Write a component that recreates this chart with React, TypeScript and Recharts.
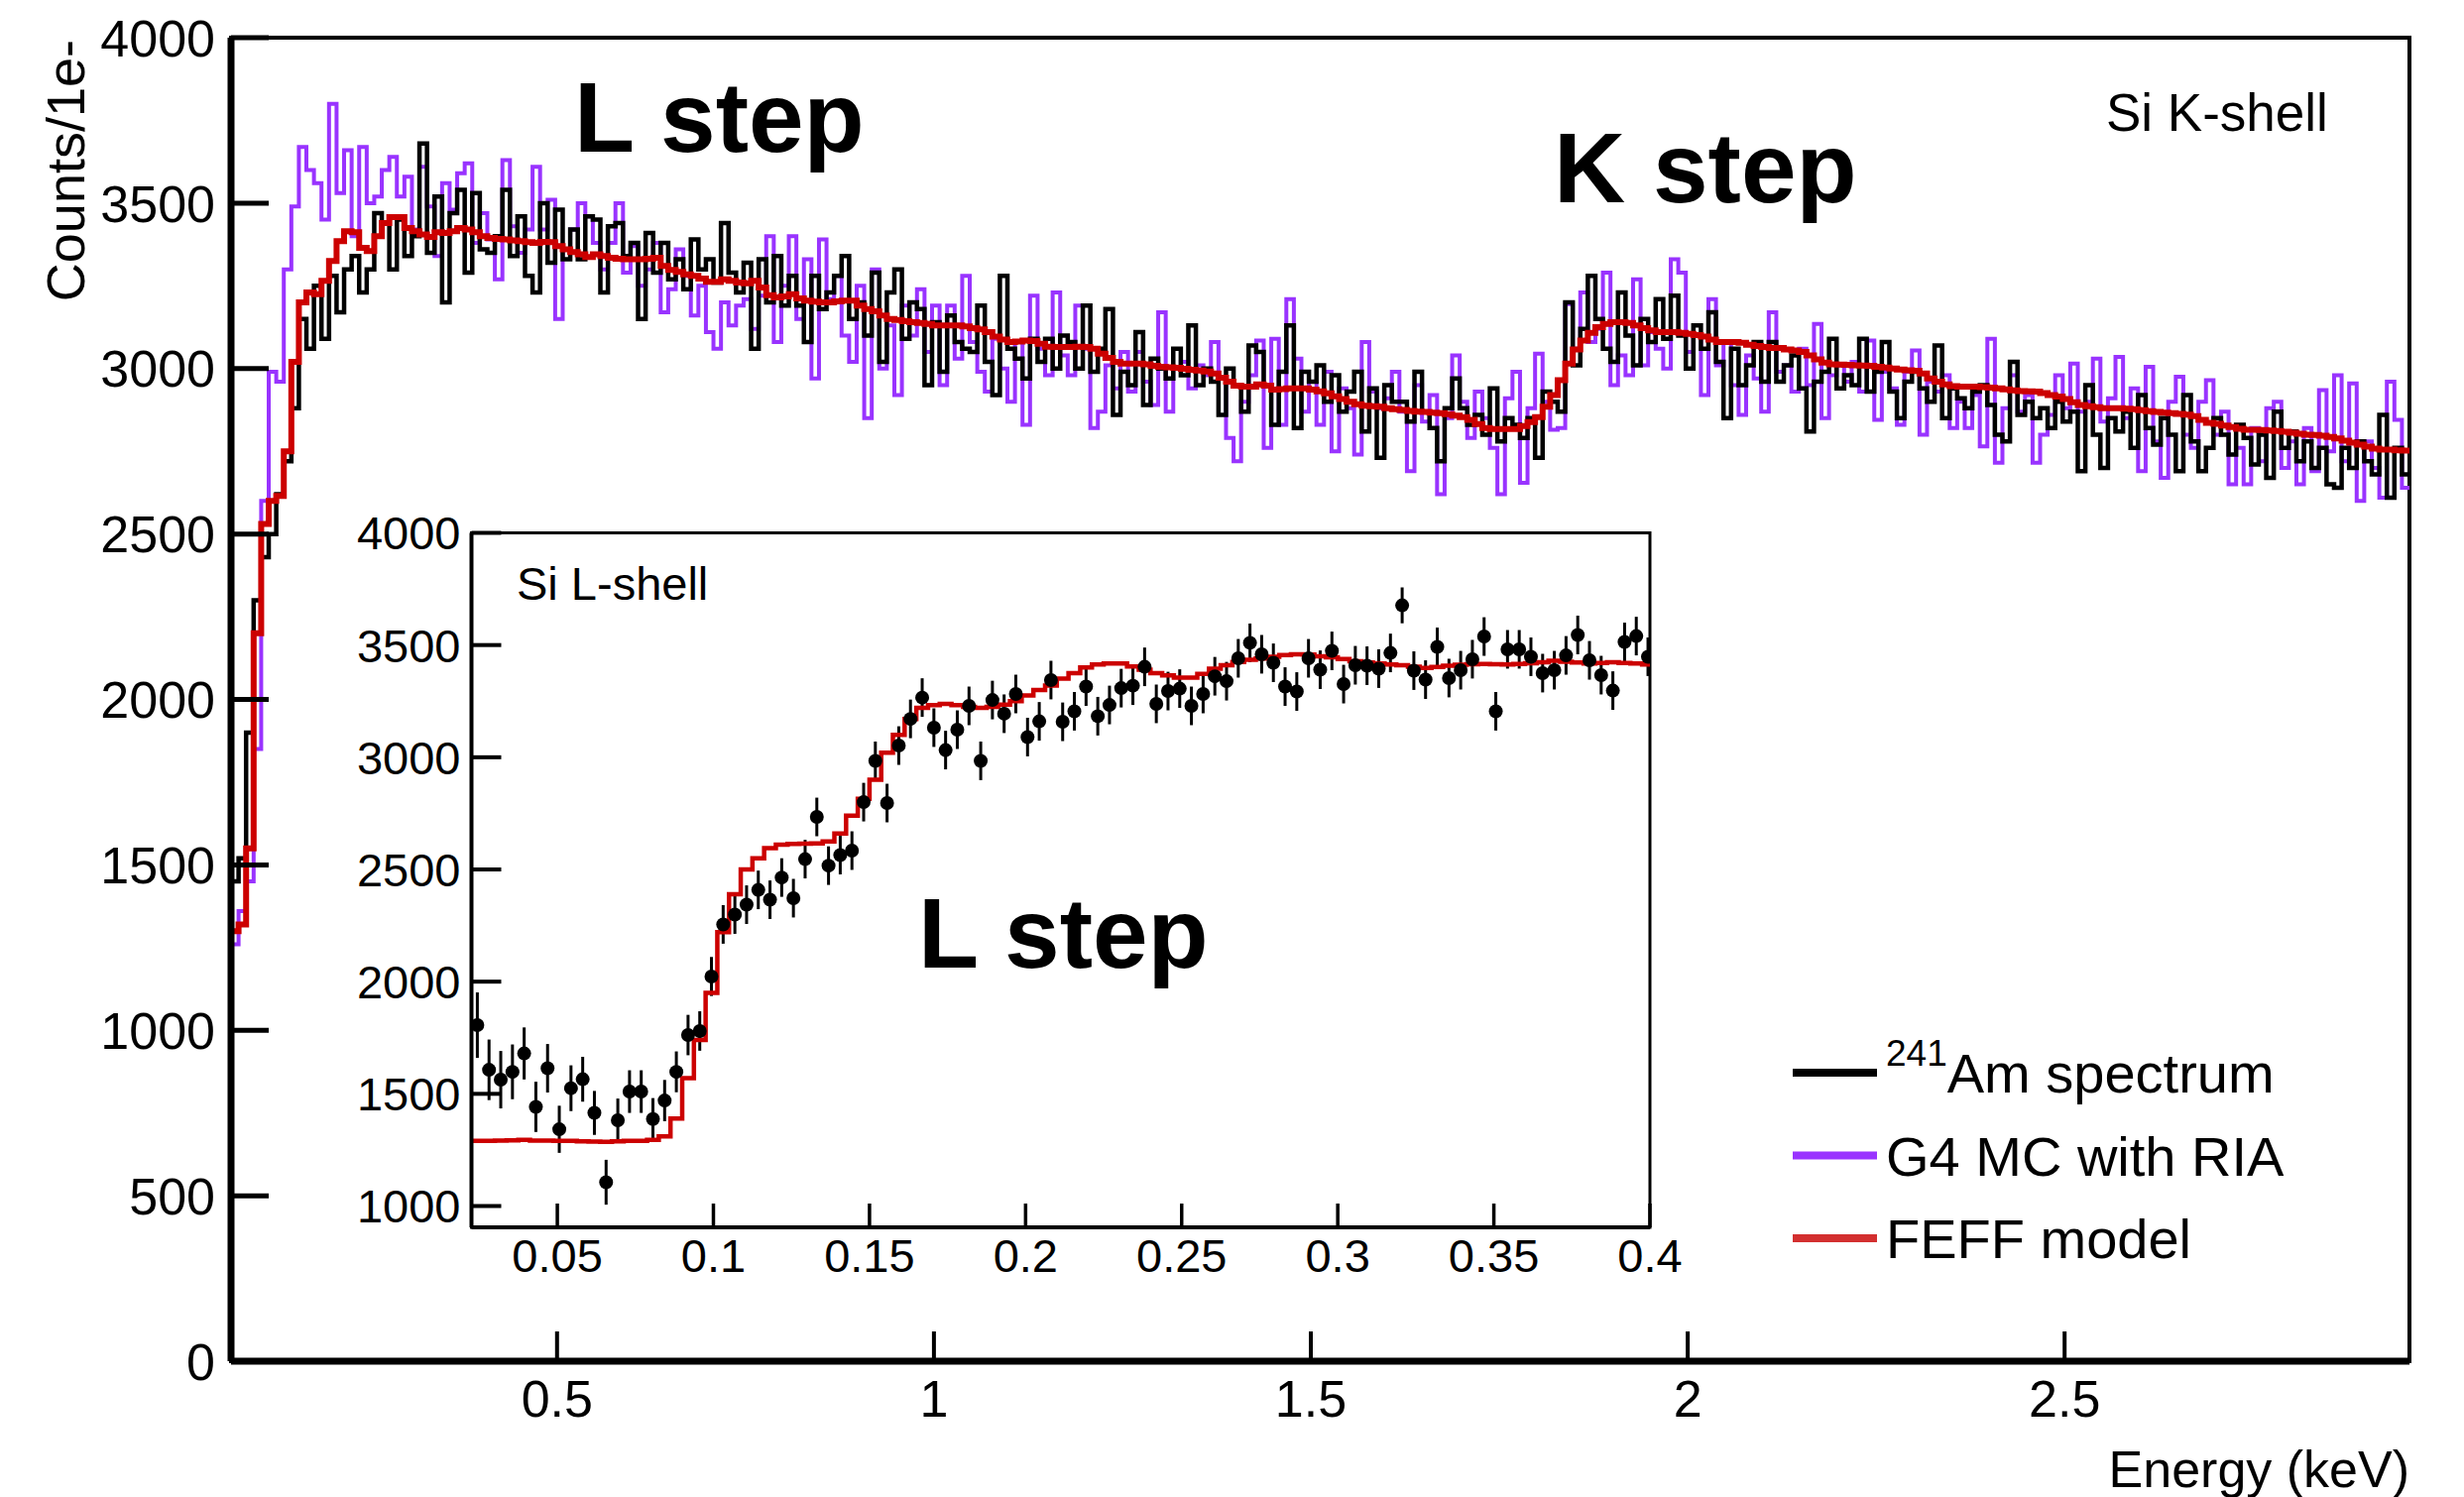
import React from 'react';
import { ComposedChart, Line, Scatter, XAxis, YAxis, ErrorBar, ReferenceArea } from 'recharts';

const FONT = '"Liberation Sans", Arial, Helvetica, sans-serif';

// ---------- Main spectrum: 10 eV bins starting at 0.0675 keV ----------
const BIN_START = 0.0675;
const BIN_WIDTH = 0.01;

// 241Am spectrum (black)
const AM241 = [
  1450, 1520, 1900, 2300, 2430, 2500, 2620, 2720, 2880, 3150,
  3060, 3250, 3090, 3280, 3170, 3300, 3340, 3230, 3300, 3470,
  3440, 3300, 3450, 3340, 3400, 3680, 3350, 3520, 3200, 3470,
  3540, 3290, 3530, 3360, 3350, 3400, 3540, 3340, 3460, 3280,
  3230, 3500, 3320, 3480, 3330, 3420, 3330, 3460, 3450, 3230,
  3430, 3440, 3340, 3380, 3150, 3410, 3290, 3380, 3270, 3330,
  3240, 3390, 3300, 3330, 3260, 3440, 3290, 3230, 3320, 3060,
  3330, 3200, 3340, 3190, 3280, 3190, 3080, 3280, 3180, 3230,
  3280, 3340, 3150, 3200, 3100, 3290, 3020, 3230, 3300, 3090,
  3200, 3180, 2950, 3140, 2990, 3160, 3080, 3060, 3050, 3190,
  3020, 2920, 3280, 3060, 3030, 2970, 3090, 3020, 3090, 3000,
  3100, 3080, 3000, 3190, 2990, 3060, 3180, 2860, 2990, 2950,
  3110, 2890, 3030, 3000, 2970, 3060, 2980, 3130, 2950, 3000,
  2960, 2860, 3000, 2950, 2870, 3070, 3050, 2950, 2830, 2990,
  3130, 2820, 2990, 2960, 3010, 2900, 2980, 2870, 2930, 2990,
  2810, 2940, 2730, 2950, 2900, 2900, 2840, 2990, 2870, 2820,
  2720, 2880, 2970, 2880, 2830, 2860, 2800, 2940, 2780, 2850,
  2830, 2790, 2850, 2730, 2930, 2900, 2870, 3200, 3010, 3120,
  3280, 3150, 3060, 3020, 3230, 3100, 3010, 3150, 3080, 3210,
  3090, 3220, 3100, 3000, 3130, 3060, 3170, 3020, 2850, 3060,
  2950, 3010, 3080, 2960, 3080, 2960, 3010, 3040, 2940, 2810,
  2960, 2990, 3090, 2940, 2980, 2950, 3090, 2930, 2990, 3080,
  2930, 2850, 2960, 2990, 2940, 2900, 3070, 2850, 2940, 2910,
  2880, 2930, 2950, 2890, 2800, 2780, 3020, 2860, 2900, 2850,
  2880, 2820, 2900, 2840, 2870, 2690, 2950, 2800, 2700, 2850,
  2810, 2870, 2760, 2920, 2820, 2770, 2850, 2800, 2690, 2920,
  2780, 2690, 2760, 2850, 2800, 2740, 2830, 2790, 2710, 2800,
  2670, 2870, 2760, 2810, 2720, 2780, 2700, 2760, 2650, 2640,
  2760, 2700, 2780, 2720, 2680, 2860, 2610, 2760, 2680,
];

// G4 MC with RIA (purple)
const G4MC = [
  1260, 1360, 1450, 1850, 2600, 2990, 2960, 3300, 3490, 3670,
  3600, 3560, 3450, 3800, 3530, 3660, 3400, 3670, 3500, 3520,
  3600, 3640, 3520, 3580, 3420, 3610, 3490, 3340, 3560, 3480,
  3590, 3620, 3380, 3470, 3390, 3270, 3630, 3430, 3350, 3420,
  3610, 3420, 3510, 3150, 3360, 3420, 3500, 3460, 3380, 3300,
  3380, 3500, 3290, 3370, 3250, 3300, 3380, 3170, 3240, 3360,
  3280, 3160, 3250, 3110, 3060, 3200, 3130, 3190, 3210, 3120,
  3220, 3400, 3080, 3250, 3400, 3150, 3330, 2970, 3390, 3210,
  3280, 3100, 3020, 3250, 2850, 3300, 3000, 3130, 2920, 3190,
  3100, 3240, 3050, 3190, 2950, 3190, 3030, 3280, 3080, 2990,
  2930, 3090, 3000, 2900, 3080, 2830, 3220, 3060, 2980, 3230,
  3040, 2980, 3190, 3060, 2820, 2870, 3010, 2940, 3050, 2930,
  3050, 2960, 2890, 3170, 2870, 3000, 3020, 2940, 3010, 2980,
  3080, 2970, 2790, 2720, 2900, 2980, 3085, 2760, 3090, 2830,
  3210, 3030, 2870, 2960, 2830, 2990, 2750, 2940, 2880, 2740,
  3080, 2930, 2880, 2910, 2990, 2870, 2690, 2950, 2840, 2920,
  2620, 2850, 3040, 2900, 2790, 2930, 2850, 2760, 2620, 2910,
  2990, 2655, 2880, 3045, 2900, 2815, 2820, 3195, 3060, 3230,
  3080, 3120, 3290, 2950, 3040, 2980, 3270, 3010, 3110, 3060,
  3000, 3330, 3290, 3050, 3100, 2920, 3210, 3010, 3080, 2950,
  2860, 3040, 2970, 2870, 3170, 2990, 3010, 2930, 3060, 2950,
  3135, 2850, 2980, 3010, 2960, 3020, 2930, 3085, 2845, 2990,
  2940, 2830, 2990, 3055, 2800, 2960, 2930, 2980, 2820, 2900,
  2820, 2920, 2765, 3090, 2715, 2880, 2980, 2870, 2920, 2715,
  2800, 2860, 2980, 2880, 3015, 2870, 2900, 3030, 2840, 2910,
  3035, 2850, 2940, 2690, 3005, 2780, 2670, 2900, 2975, 2800,
  2760, 2900, 2965, 2800, 2870, 2650, 2760, 2650, 2820, 2720,
  2880, 2900, 2700, 2780, 2650, 2820, 2690, 2935, 2750, 2980,
  2720, 2955, 2600, 2780, 2700, 2610, 2960, 2845, 2640,
];

// FEFF model (red)
const FEFF = [
  1300, 1320, 1550, 2200, 2530, 2600, 2615, 2750, 3020, 3200,
  3230, 3225, 3265, 3325, 3385, 3415, 3412, 3365, 3355, 3400,
  3440, 3458, 3458, 3425, 3415, 3405, 3398, 3412, 3410, 3415,
  3425, 3420, 3412, 3400, 3395, 3392, 3390, 3387, 3385, 3382,
  3380, 3383, 3382, 3370, 3360, 3352, 3345, 3337, 3345, 3340,
  3335, 3332, 3330, 3330, 3330, 3332, 3335, 3310, 3298, 3292,
  3285, 3280, 3272, 3262, 3262, 3270, 3265, 3260, 3258, 3265,
  3245, 3222, 3215, 3218, 3225, 3212, 3205, 3202, 3200, 3200,
  3203, 3205, 3205, 3190, 3180, 3173, 3160, 3150, 3147, 3143,
  3140, 3138, 3135, 3130, 3130, 3130, 3130, 3127, 3122, 3118,
  3110, 3097, 3088, 3080, 3082, 3085, 3083, 3075, 3066, 3065,
  3065, 3065, 3066, 3065, 3060, 3045, 3032, 3020, 3015, 3015,
  3015, 3013, 3008, 3005, 3004, 3002, 2999, 2996, 2994, 2991,
  2985, 2972, 2960, 2948, 2945, 2945, 2952, 2948, 2936, 2938,
  2940, 2940, 2940, 2936, 2931, 2925, 2916, 2908, 2900, 2892,
  2888, 2886, 2885, 2880, 2877, 2875, 2872, 2870, 2869, 2867,
  2865, 2862, 2858, 2853, 2845, 2832, 2820, 2817, 2817, 2817,
  2817, 2826, 2838, 2853, 2885, 2920, 2965, 3015, 3058, 3085,
  3108, 3125, 3135, 3140, 3140, 3138, 3130, 3122, 3115, 3110,
  3110, 3110, 3108, 3105, 3101, 3097, 3088, 3080, 3080, 3080,
  3078, 3072, 3068, 3065, 3062, 3062, 3058, 3055, 3050, 3040,
  3028, 3018, 3013, 3012, 3011, 3010, 3009, 3008, 3005, 3003,
  3000, 2997, 2995, 2993, 2985, 2970, 2960, 2952, 2947, 2945,
  2945, 2945, 2944, 2942, 2940, 2937, 2934, 2932, 2931, 2930,
  2926, 2920, 2915, 2908, 2898, 2890, 2886, 2883, 2880, 2880,
  2880, 2879, 2877, 2874, 2871, 2869, 2867, 2865, 2863, 2861,
  2856, 2845, 2836, 2833, 2828, 2823, 2818, 2815, 2815, 2814,
  2813, 2811, 2809, 2806, 2803, 2800, 2799, 2797, 2793, 2789,
  2782, 2776, 2770, 2764, 2758, 2755, 2755, 2753, 2752,
];

const MAIN_X_DOMAIN: [number, number] = [0.0675, 2.9575];
const MAIN_Y_DOMAIN: [number, number] = [0, 4000];
const MAIN_X_TICKS = [0.5, 1, 1.5, 2, 2.5];
const MAIN_Y_TICKS = [0, 500, 1000, 1500, 2000, 2500, 3000, 3500, 4000];

// ---------- Inset: Si L-shell, 1 e- (3.75 eV) bins ----------
const INSET_BIN_WIDTH = 0.00375;
const INSET_FIRST_BIN = 6;

const INSET_COUNTS = [
  1806, 1607, 1563, 1598, 1680, 1442, 1614, 1342, 1525, 1565,
  1415, 1106, 1382, 1510, 1510, 1388, 1470, 1598, 1762, 1780,
  2023, 2255, 2299, 2343, 2409, 2365, 2464, 2372, 2546, 2734,
  2517, 2564, 2584, 2800, 2984, 2796, 3052, 3171, 3266, 3132,
  3032, 3123, 3229, 2984, 3255, 3194, 3282, 3090, 3160, 3344,
  3158, 3205, 3315, 3183, 3233, 3308, 3319, 3403, 3238, 3295,
  3306, 3229, 3282, 3361, 3339, 3441, 3510, 3459, 3421, 3315,
  3293, 3441, 3390, 3474, 3326, 3410, 3408, 3395, 3465, 3677,
  3386, 3346, 3492, 3353, 3388, 3437, 3538, 3205, 3481, 3481,
  3448, 3375, 3388, 3454, 3545, 3432, 3366, 3297, 3514, 3540,
  3448,
];

const INSET_ERRORS = [
  146, 135, 128, 122, 116, 112, 108, 105, 102, 100,
  98, 100, 97, 95, 95, 93, 92, 91, 90, 88,
  87, 86, 86, 86, 86, 86, 86, 86, 86, 86,
  86, 86, 86, 86, 86, 86, 86, 86, 86, 86,
  86, 86, 86, 86, 86, 86, 86, 86, 86, 86,
  86, 86, 86, 86, 86, 86, 86, 86, 86, 86,
  86, 86, 86, 86, 86, 86, 86, 86, 86, 86,
  86, 86, 86, 86, 86, 86, 86, 86, 86, 80,
  86, 86, 86, 86, 86, 86, 86, 86, 86, 86,
  86, 86, 86, 86, 86, 86, 86, 86, 86, 86,
  86,
];

const INSET_MODEL = [
  1290, 1290, 1292, 1293, 1295, 1292, 1292, 1290, 1290, 1288,
  1287, 1286, 1288, 1290, 1290, 1295, 1310, 1390, 1570, 1740,
  1950, 2220, 2390, 2500, 2550, 2595, 2610, 2614, 2615, 2616,
  2625, 2660, 2740, 2815, 2900, 3020, 3100, 3170, 3220, 3232,
  3238, 3232, 3225, 3220, 3225, 3235, 3250, 3275, 3300, 3320,
  3350, 3375, 3400, 3413, 3418, 3418, 3405, 3390, 3375, 3365,
  3355, 3355, 3372, 3395, 3410, 3425, 3435, 3440, 3448, 3455,
  3459, 3458, 3450, 3445, 3438, 3428, 3422, 3418, 3414, 3410,
  3404, 3398, 3402, 3408, 3412, 3415, 3416, 3415, 3414, 3416,
  3419, 3423, 3430, 3426, 3422, 3418, 3420, 3423, 3420, 3418,
  3414,
];

const INSET_X_DOMAIN: [number, number] = [0.0225, 0.4];
const INSET_Y_DOMAIN: [number, number] = [905, 4000];
const INSET_X_TICKS = [0.05, 0.1, 0.15, 0.2, 0.25, 0.3, 0.35, 0.4];
const INSET_Y_TICKS = [1000, 1500, 2000, 2500, 3000, 3500, 4000];

const COLORS = { am: '#000000', mc: '#9933ff', feff: '#cc0000', feffLegend: '#d32f2f' };

const LEGEND = [
  { sup: '241', label: 'Am spectrum', color: COLORS.am },
  { sup: '', label: 'G4 MC with RIA', color: COLORS.mc },
  { sup: '', label: 'FEFF model', color: COLORS.feffLegend },
];

// ---------- build tables for the library ----------
const mainRows = FEFF.map((v, i) => ({
  x: BIN_START + i * BIN_WIDTH,
  am: AM241[i],
  mc: G4MC[i],
  feff: v,
}));
mainRows.push({
  x: BIN_START + FEFF.length * BIN_WIDTH,
  am: AM241[AM241.length - 1],
  mc: G4MC[G4MC.length - 1],
  feff: FEFF[FEFF.length - 1],
});

const insetPoints = INSET_COUNTS.map((c, k) => ({
  x: (INSET_FIRST_BIN + k + 0.5) * INSET_BIN_WIDTH,
  y: c,
  err: INSET_ERRORS[k],
}));

const insetModel = INSET_MODEL.map((v, k) => ({ x: (INSET_FIRST_BIN + k) * INSET_BIN_WIDTH, y: v }));
insetModel.push({
  x: (INSET_FIRST_BIN + INSET_MODEL.length) * INSET_BIN_WIDTH,
  y: INSET_MODEL[INSET_MODEL.length - 1],
});

// ---------- axis tick renderers (ROOT style: inward ticks) ----------
function makeYTick(gap: number, len: number, fontSize: number, sw: number) {
  return (props: any) => {
    const { x, y, payload } = props;
    const ax = x + gap;
    return (
      <g>
        <line x1={ax} x2={ax + len} y1={y} y2={y} stroke="#000" strokeWidth={sw} />
        <text x={x} y={y} dy="0.36em" textAnchor="end" fontSize={fontSize} fontFamily={FONT} fill="#000">
          {String(payload.value)}
        </text>
      </g>
    );
  };
}

function makeXTick(gap: number, len: number, fontSize: number, sw: number) {
  return (props: any) => {
    const { x, y, payload } = props;
    const ay = y - gap;
    return (
      <g>
        <line x1={x} x2={x} y1={ay} y2={ay - len} stroke="#000" strokeWidth={sw} />
        <text x={x} y={y} dy="0.72em" textAnchor="middle" fontSize={fontSize} fontFamily={FONT} fill="#000">
          {String(payload.value)}
        </text>
      </g>
    );
  };
}

const MainYTick = makeYTick(16, 38, 52, 5);
const MainXTick = makeXTick(19, 30, 52, 4);
const InsetYTick = makeYTick(11, 30, 47, 4);
const InsetXTick = makeXTick(11, 24, 47, 3.5);

const Dot = (p: any) => <circle cx={p.cx} cy={p.cy} r={7} fill="#000" />;

export default function App() {
  return (
    <div style={{ position: 'absolute', left: 0, top: 0, width: 2485, height: 1510, background: '#fff', overflow: 'hidden' }}>
      <div style={{ position: 'absolute', left: 0, top: 0 }}>
        <ComposedChart width={2485} height={1510} data={mainRows} margin={{ top: 38, right: 55, bottom: 77, left: 113 }}>
          <XAxis
            type="number"
            dataKey="x"
            domain={MAIN_X_DOMAIN}
            ticks={MAIN_X_TICKS}
            interval={0}
            allowDataOverflow
            height={60}
            tickSize={0}
            tickMargin={19}
            tickLine={false}
            axisLine={{ stroke: '#000', strokeWidth: 7 }}
            tick={MainXTick}
          />
          <YAxis
            type="number"
            domain={MAIN_Y_DOMAIN}
            ticks={MAIN_Y_TICKS}
            interval={0}
            allowDataOverflow
            width={120}
            tickSize={0}
            tickMargin={16}
            tickLine={false}
            axisLine={{ stroke: '#000', strokeWidth: 7 }}
            tick={MainYTick}
          />
          <ReferenceArea
            x1={MAIN_X_DOMAIN[0]}
            x2={MAIN_X_DOMAIN[1]}
            y1={MAIN_Y_DOMAIN[0]}
            y2={MAIN_Y_DOMAIN[1]}
            fill="none"
            fillOpacity={0}
            stroke="#000"
            strokeWidth={4}
          />
          <Line type="stepAfter" dataKey="mc" stroke={COLORS.mc} strokeWidth={4} dot={false} activeDot={false} isAnimationActive={false} />
          <Line type="stepAfter" dataKey="am" stroke={COLORS.am} strokeWidth={4.5} dot={false} activeDot={false} isAnimationActive={false} />
          <Line type="stepAfter" dataKey="feff" stroke={COLORS.feff} strokeWidth={6} dot={false} activeDot={false} isAnimationActive={false} />
        </ComposedChart>
      </div>

      <div style={{ position: 'absolute', left: 340, top: 500 }}>
        <ComposedChart width={1400} height={820} margin={{ top: 37.5, right: 76, bottom: 22, left: 35.5 }}>
          <XAxis
            type="number"
            dataKey="x"
            domain={INSET_X_DOMAIN}
            ticks={INSET_X_TICKS}
            interval={0}
            allowDataOverflow
            height={60}
            tickSize={0}
            tickMargin={11}
            tickLine={false}
            axisLine={{ stroke: '#000', strokeWidth: 4 }}
            tick={InsetXTick}
          />
          <YAxis
            type="number"
            dataKey="y"
            domain={INSET_Y_DOMAIN}
            ticks={INSET_Y_TICKS}
            interval={0}
            allowDataOverflow
            width={100}
            tickSize={0}
            tickMargin={11}
            tickLine={false}
            axisLine={{ stroke: '#000', strokeWidth: 4 }}
            tick={InsetYTick}
          />
          <ReferenceArea
            x1={INSET_X_DOMAIN[0]}
            x2={INSET_X_DOMAIN[1]}
            y1={INSET_Y_DOMAIN[0]}
            y2={INSET_Y_DOMAIN[1]}
            fill="none"
            fillOpacity={0}
            stroke="#000"
            strokeWidth={3}
          />
          <Scatter data={insetPoints} dataKey="y" shape={Dot} isAnimationActive={false}>
            <ErrorBar dataKey="err" direction="y" width={0} stroke="#000" strokeWidth={3} isAnimationActive={false} />
          </Scatter>
          <Line data={insetModel} type="stepAfter" dataKey="y" stroke={COLORS.feff} strokeWidth={4.5} dot={false} activeDot={false} isAnimationActive={false} />
        </ComposedChart>
      </div>

      <svg width={2485} height={1510} style={{ position: 'absolute', left: 0, top: 0, pointerEvents: 'none' }}>
        <text x={85} y={40} transform="rotate(-90 85 40)" textAnchor="end" fontSize={54} fontFamily={FONT} fill="#000">
          Counts/1e-
        </text>
        <text x={2430} y={1500} textAnchor="end" fontSize={52} fontFamily={FONT} fill="#000">
          Energy (keV)
        </text>
        <text x={579} y={153} fontSize={100} fontWeight="bold" fontFamily={FONT} fill="#000">L step</text>
        <text x={1567} y={204} fontSize={100} fontWeight="bold" fontFamily={FONT} fill="#000">K step</text>
        <text x={2124} y={132} fontSize={53} fontFamily={FONT} fill="#000">Si K-shell</text>
        <text x={521} y={605} fontSize={47} fontFamily={FONT} fill="#000">Si L-shell</text>
        <text x={926} y={976} fontSize={100} fontWeight="bold" fontFamily={FONT} fill="#000">L step</text>
        {LEGEND.map((e, k) => {
          const ly = 1082 + k * 83.5;
          return (
            <g key={e.label}>
              <line x1={1808} x2={1893} y1={ly} y2={ly} stroke={e.color} strokeWidth={8} />
              <text x={1902} y={ly + 20} fontSize={56} fontFamily={FONT} fill="#000">
                {e.sup ? (
                  <>
                    <tspan fontSize={37} dy={-27}>{e.sup}</tspan>
                    <tspan dy={27}>{e.label}</tspan>
                  </>
                ) : (
                  e.label
                )}
              </text>
            </g>
          );
        })}
      </svg>
    </div>
  );
}
